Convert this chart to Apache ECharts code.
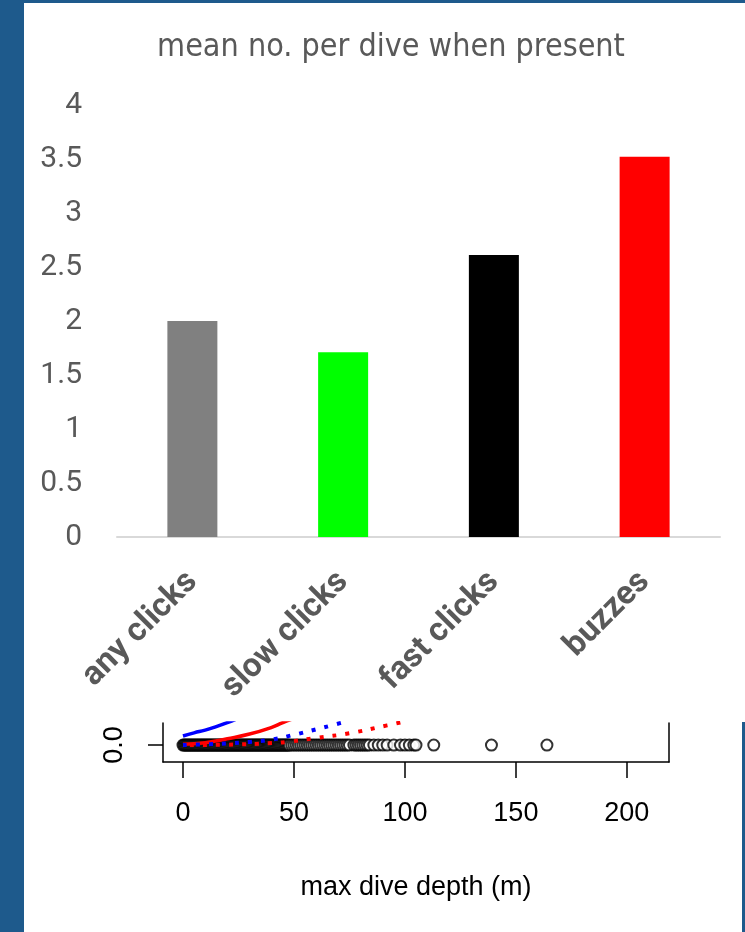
<!DOCTYPE html>
<html>
<head>
<meta charset="utf-8">
<script src="https://cdn.jsdelivr.net/npm/echarts@6/dist/echarts.min.js"></script>
<style>
  html, body { margin: 0; padding: 0; }
  #main { width: 745px; height: 932px; }
</style>
</head>
<body>
<div id="main"></div>
<script>
// bar panel
const categories = ['any clicks', 'slow clicks', 'fast clicks', 'buzzes'];
const meanPerDive = [2.0, 1.71, 2.61, 3.52];
const barColors = ['#808080', '#00ff00', '#000000', '#ff0000'];

// cropped scatter panel (depth in m, value at 0)
const depthTicks = [0, 50, 100, 150, 200];
const diveDepths = [
  0, 0.5, 1, 1.5, 2, 2.5, 3, 3.5, 4, 4.5, 5, 5.5, 6, 6.5, 7, 7.5, 8, 8.5, 9, 9.5,
  10, 10.5, 11, 11.5, 12, 12.5, 13, 13.5, 14, 14.5, 15, 15.5, 16, 16.5, 17, 17.5, 18, 18.5, 19, 19.5,
  20, 20.5, 21, 21.5, 22, 22.5, 23, 23.5, 24, 24.5, 25, 25.5, 26, 26.5, 27, 27.5, 28, 28.5, 29, 29.5,
  30, 30.5, 31, 31.5, 32, 32.5, 33, 33.5, 34, 34.5, 35, 35.5, 36, 36.5, 37, 37.5, 38, 38.5, 39, 39.5,
  40, 40.5, 41, 41.5, 42, 42.5, 43, 43.5, 44, 44.5, 45, 45.5, 46, 46.5, 47, 47.5, 48,
  49, 50, 51, 52, 53, 54, 55, 56, 57, 58, 59, 60, 61, 62, 63, 64, 65, 66, 67, 68, 69, 70,
  71, 72, 73, 74, 75, 77, 78, 79, 80, 81, 82, 83, 84, 86, 88, 90, 92, 95, 98, 100, 102, 104,
  105, 113, 139, 164];
const blueSolid = [[0, 0.023], [5, 0.031], [10, 0.038], [15, 0.047], [20, 0.057], [25, 0.068], [30, 0.08]];
const redSolid = [[0, 0.002], [10, 0.006], [20, 0.016], [30, 0.028], [40, 0.045], [45, 0.057], [55, 0.078]];
const blueDotted = [[0, 0.0], [10, 0.002], [20, 0.004], [30, 0.008], [40, 0.014], [50, 0.026], [60, 0.04], [67, 0.05], [75, 0.062]];
const redDotted = [[0, 0.0], [20, 0.001], [40, 0.005], [47, 0.008], [60, 0.018], [75, 0.03], [92, 0.05], [100, 0.06]];

const sansFont = "Roboto, 'Liberation Sans', sans-serif";
const rFont = "'Liberation Sans', Arial, sans-serif";

const chart = echarts.init(document.getElementById('main'));

chart.setOption({
  animation: false,
  backgroundColor: '#1e5a8c',
  graphic: [
    { type: 'rect', z: -10, shape: { x: 24, y: 3, width: 721, height: 929 }, style: { fill: '#ffffff' } },
    { type: 'rect', z: -9, shape: { x: 742, y: 722, width: 3, height: 210 }, style: { fill: '#1e5a8c' } }
  ],
  title: {
    text: 'mean no. per dive when present',
    left: 386,
    top: 27,
    textAlign: 'center',
    // "condensed" goes into the canvas font string as font-stretch
    textStyle: { fontFamily: "'DejaVu Sans'", fontStyle: 'condensed', fontSize: 32, fontWeight: 'normal', color: '#595959' }
  },
  grid: [
    { left: 117, right: 25, top: 105, bottom: 395 },
    { left: 163, right: 76, top: 723, bottom: 170 }
  ],
  xAxis: [
    {
      type: 'category',
      gridIndex: 0,
      data: categories,
      axisLine: { lineStyle: { color: '#d9d9d9', width: 2 } },
      axisTick: { show: false },
      axisLabel: {
        rotate: 45,
        margin: 40,
        interval: 0,
        fontFamily: sansFont,
        fontSize: 33,
        fontWeight: 'bold',
        color: '#595959'
      }
    },
    {
      type: 'value',
      gridIndex: 1,
      min: -9,
      max: 219,
      splitLine: { show: false },
      axisLine: { onZero: false, lineStyle: { color: '#000', width: 1.5 } },
      axisTick: { customValues: depthTicks, length: 16, lineStyle: { color: '#000', width: 1.5 } },
      axisLabel: { customValues: depthTicks, margin: 38, fontFamily: rFont, fontSize: 27, color: '#000' },
      name: 'max dive depth (m)',
      nameLocation: 'middle',
      nameGap: 112,
      nameTextStyle: { fontFamily: rFont, fontSize: 27, color: '#000' }
    }
  ],
  yAxis: [
    {
      type: 'value',
      gridIndex: 0,
      min: 0,
      max: 4,
      interval: 0.5,
      splitLine: { show: false },
      axisLine: { show: false },
      axisTick: { show: false },
      axisLabel: { margin: 35, fontFamily: sansFont, fontSize: 30, color: '#595959' }
    },
    {
      type: 'value',
      gridIndex: 1,
      min: -0.043,
      max: 0.056,
      splitLine: { show: false },
      axisLine: { show: true, onZero: false, lineStyle: { color: '#000', width: 1.5 } },
      axisTick: { customValues: [0], length: 15, lineStyle: { color: '#000', width: 1.5 } },
      axisLabel: {
        customValues: [0],
        formatter: v => v.toFixed(1),
        rotate: 90,
        margin: 35,
        fontFamily: rFont,
        fontSize: 27,
        color: '#000'
      }
    },
    {
      type: 'value',
      gridIndex: 1,
      position: 'right',
      min: -0.043,
      max: 0.056,
      splitLine: { show: false },
      axisLine: { show: true, onZero: false, lineStyle: { color: '#000', width: 1.5 } },
      axisTick: { show: false },
      axisLabel: { show: false }
    }
  ],
  series: [
    {
      type: 'bar',
      xAxisIndex: 0,
      yAxisIndex: 0,
      barWidth: 50,
      data: meanPerDive.map((v, i) => ({ value: v, itemStyle: { color: barColors[i] } }))
    },
    {
      type: 'scatter',
      xAxisIndex: 1,
      yAxisIndex: 1,
      symbol: 'emptyCircle',
      symbolSize: 11,
      itemStyle: { color: '#000', borderWidth: 1.6 },
      data: diveDepths.map(d => [d, 0])
    },
    {
      type: 'line', xAxisIndex: 1, yAxisIndex: 1, smooth: true, showSymbol: false, z: 3,
      lineStyle: { color: '#0000ff', width: 3.5 }, data: blueSolid
    },
    {
      type: 'line', xAxisIndex: 1, yAxisIndex: 1, smooth: true, showSymbol: false, z: 3,
      lineStyle: { color: '#ff0000', width: 3.5 }, data: redSolid
    },
    {
      type: 'line', xAxisIndex: 1, yAxisIndex: 1, smooth: true, showSymbol: false, z: 3,
      lineStyle: { color: '#0000ff', width: 4, type: [4, 9] }, data: blueDotted
    },
    {
      type: 'line', xAxisIndex: 1, yAxisIndex: 1, smooth: true, showSymbol: false, z: 3,
      lineStyle: { color: '#ff0000', width: 4, type: [4, 9], dashOffset: 6 }, data: redDotted
    }
  ]
});
</script>
</body>
</html>
